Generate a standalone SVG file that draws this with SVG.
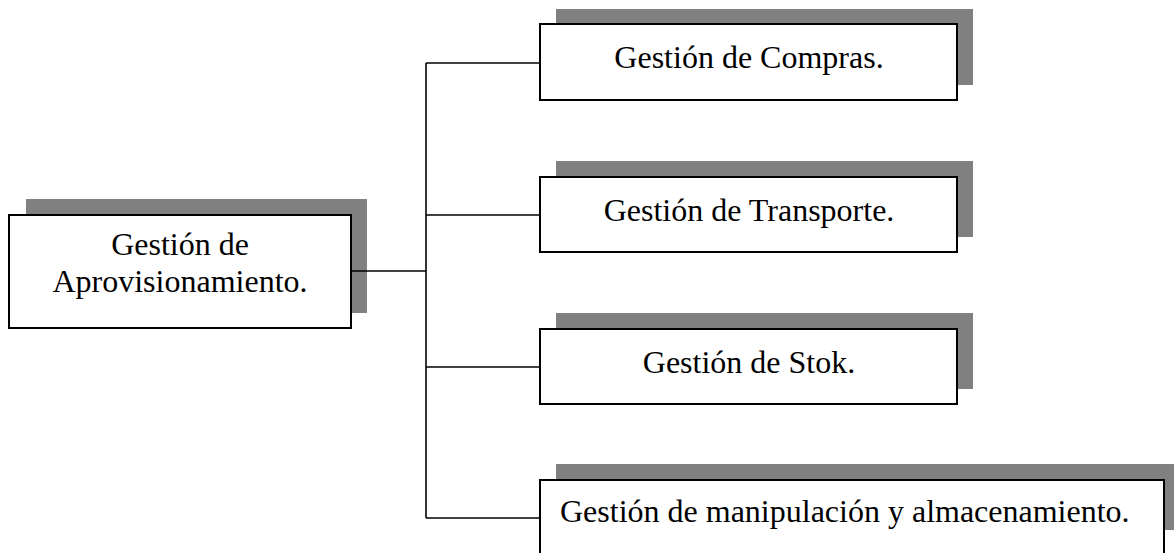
<svg xmlns="http://www.w3.org/2000/svg" width="1174" height="553" viewBox="0 0 1174 553">
  <style>
    .shadow { fill: #808080; }
    .box { fill: #ffffff; stroke: #000000; stroke-width: 2; }
    .label { font-family: "Liberation Serif", "Times New Roman", serif; font-size: 32px; fill: #000000; }
    .mid { text-anchor: middle; }
    .wire { fill: none; stroke: #000000; stroke-width: 1.6; }
  </style>
  <rect width="1174" height="553" fill="#ffffff"/>

  <g id="aprovisionamiento">
    <rect class="shadow" x="26" y="199" width="341" height="114"/>
    <rect class="box" x="9" y="215" width="342" height="113"/>
    <text class="label mid" x="180" y="255">Gestión de</text>
    <text class="label mid" x="180" y="292">Aprovisionamiento.</text>
  </g>

  <g id="compras">
    <rect class="shadow" x="556" y="9" width="417" height="76"/>
    <rect class="box" x="540" y="24" width="417" height="76"/>
    <text class="label mid" x="749" y="68">Gestión de Compras.</text>
  </g>

  <g id="transporte">
    <rect class="shadow" x="556" y="161" width="417" height="76"/>
    <rect class="box" x="540" y="177" width="417" height="75"/>
    <text class="label mid" x="749" y="221">Gestión de Transporte.</text>
  </g>

  <g id="stok">
    <rect class="shadow" x="556" y="313" width="417" height="76"/>
    <rect class="box" x="540" y="329" width="417" height="75"/>
    <text class="label mid" x="749" y="373">Gestión de Stok.</text>
  </g>

  <g id="manipulacion">
    <rect class="shadow" x="556" y="464" width="620" height="66"/>
    <rect class="box" x="540" y="480" width="624" height="80"/>
    <text class="label" x="560" y="522">Gestión de manipulación y almacenamiento.</text>
  </g>

  <!-- tree connectors, drawn over the drop shadows -->
  <g id="connectors">
    <path class="wire" d="M351 271 H426"/>
    <path class="wire" d="M426 63 V518"/>
    <path class="wire" d="M426 63 H540"/>
    <path class="wire" d="M426 215 H540"/>
    <path class="wire" d="M426 367 H540"/>
    <path class="wire" d="M426 518 H540"/>
  </g>
</svg>
